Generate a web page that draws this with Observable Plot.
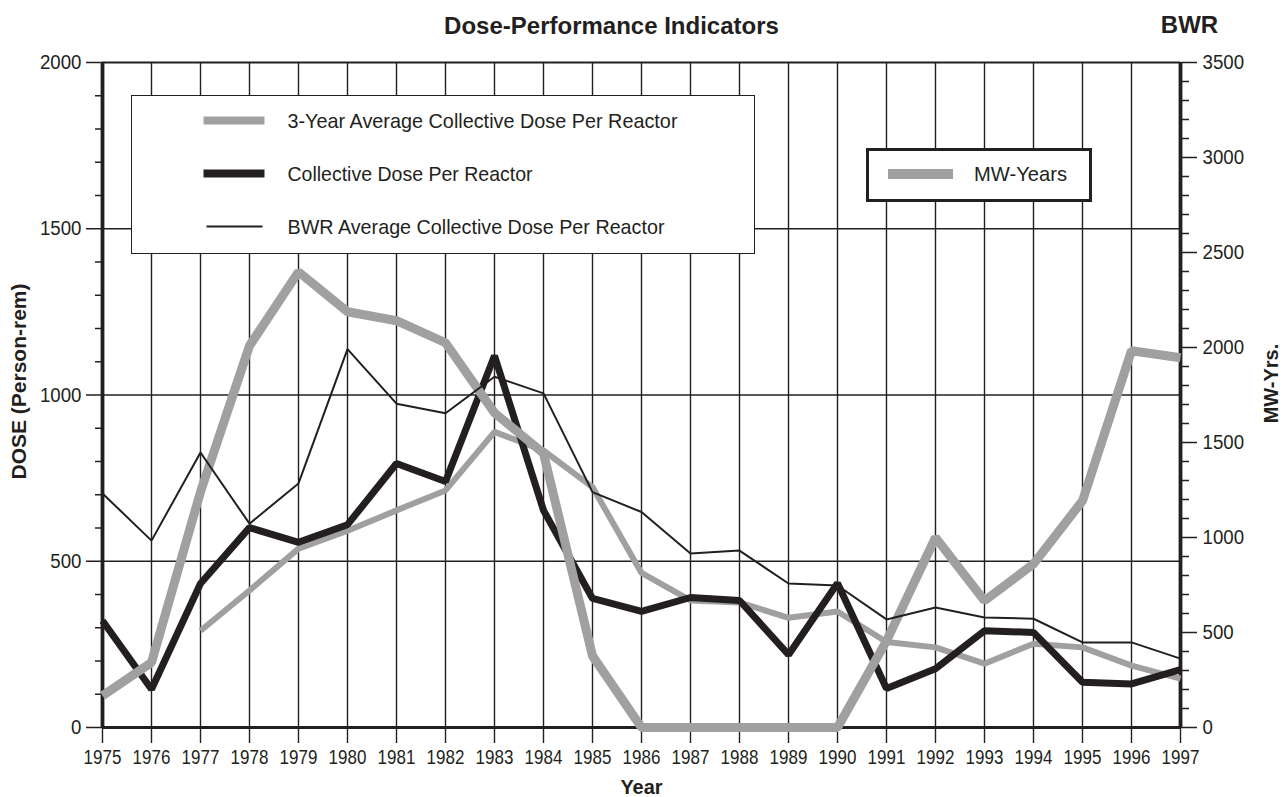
<!DOCTYPE html>
<html>
<head>
<meta charset="utf-8">
<script src="https://cdn.jsdelivr.net/npm/d3@7"></script>
<script src="https://cdn.jsdelivr.net/npm/@observablehq/plot@0.6"></script>
<style>
  html, body { margin: 0; padding: 0; background: #fff; }
  #wrap { position: relative; width: 1285px; height: 797px; overflow: hidden;
          font-family: "Liberation Sans", Arial, sans-serif; color: #231f20; }
  .legend { position: absolute; background: #fff; box-sizing: border-box; }
  .legend svg { position: absolute; overflow: visible; }
</style>
</head>
<body>
<div id="wrap"></div>
<script>
// ---- data ----
const years = [1975,1976,1977,1978,1979,1980,1981,1982,1983,1984,1985,1986,1987,1988,1989,1990,1991,1992,1993,1994,1995,1996,1997];
const avg3Dose = [null,null,291,412,538,592,653,713,889,833,723,465,382,376,330,349,257,241,192,252,241,186,147];
const collectiveDose = [321,115,433,601,557,610,794,740,1118,653,388,349,391,382,219,434,117,177,291,286,136,131,174];
const bwrAvgDose = [704,562,827,613,734,1138,974,945,1055,1005,708,648,523,532,433,427,325,361,331,327,256,256,207];
const mwYears = [167,342,1240,2009,2398,2188,2141,2025,1656,1443,377,0,0,0,0,0,456,1000,667,861,1193,1983,1946];
const doseTicks = [0,500,1000,1500,2000];
const doseMinorTicks = [100,200,300,400,600,700,800,900,1100,1200,1300,1400,1600,1700,1800,1900];
const mwTicks = [0,500,1000,1500,2000,2500,3000,3500];
const mwMinorTicks = [100,200,300,400,600,700,800,900,1100,1200,1300,1400,1600,1700,1800,1900,2100,2200,2300,2400,2600,2700,2800,2900,3100,3200,3300,3400];
const gridDose = [500,1000,1500];

const DOSE_MAX = 2000, MW_MAX = 3500;
const K = DOSE_MAX / MW_MAX; // MW-years -> dose axis units

const rows = years.map((yr, i) => ({
  year: yr, avg3: avg3Dose[i], coll: collectiveDose[i], bwr: bwrAvgDose[i], mw: mwYears[i]
}));

const INK = "#231f20", GRAY = "#a0a0a0";
const FONT = '"Liberation Sans", Arial, sans-serif';
const blank = () => "";

const chart = Plot.plot({
  width: 1285, height: 797,
  marginLeft: 102, marginRight: 105, marginTop: 62, marginBottom: 70,
  x: {domain: [1975, 1997]},
  y: {domain: [0, DOSE_MAX]},
  style: {fontFamily: FONT, fontSize: "21px", color: INK, background: "white", overflow: "visible"},
  marks: [
    Plot.gridX(years, {stroke: INK, strokeOpacity: 1, strokeWidth: 1.4}),
    Plot.gridY(gridDose, {stroke: INK, strokeOpacity: 1, strokeWidth: 1.5}),
    Plot.ruleY([DOSE_MAX], {stroke: INK, strokeWidth: 2.2}),
    // axes
    Plot.axisX(years, {anchor: "bottom", tickSize: 16, tickPadding: 6, tickFormat: d => String(d), label: null, stroke: INK, strokeWidth: 1.4, fontSize: 21}),
    Plot.axisY(doseTicks, {anchor: "left", tickSize: 16, tickPadding: 5, tickFormat: d => String(d), label: null, stroke: INK, strokeWidth: 1.5, fontSize: 21}),
    Plot.axisY(doseMinorTicks, {anchor: "left", tickSize: 7, tickFormat: blank, label: null, stroke: INK, strokeWidth: 1.5}),
    Plot.axisY(mwTicks.map(v => v * K), {anchor: "right", tickSize: 16, tickPadding: 6, tickFormat: d => String(Math.round(d / K)), label: null, stroke: INK, strokeWidth: 1.5, fontSize: 21}),
    Plot.axisY(mwMinorTicks.map(v => v * K), {anchor: "right", tickSize: 8, tickFormat: blank, label: null, stroke: INK, strokeWidth: 1.5}),
    // frame lines
    Plot.ruleX([1975], {stroke: INK, strokeWidth: 3.8}),
    Plot.ruleX([1997], {stroke: INK, strokeWidth: 3.8}),
    Plot.ruleY([0], {stroke: INK, strokeWidth: 3.2}),
    // series
    Plot.lineY(rows, {x: "year", y: "avg3", stroke: GRAY, strokeWidth: 6, strokeLinejoin: "miter", strokeLinecap: "butt"}),
    Plot.lineY(rows, {x: "year", y: "coll", stroke: INK, strokeWidth: 7, strokeLinejoin: "miter", strokeLinecap: "butt"}),
    Plot.lineY(rows, {x: "year", y: d => d.mw * K, stroke: GRAY, strokeWidth: 9, strokeLinejoin: "miter", strokeLinecap: "butt"}),
    Plot.lineY(rows, {x: "year", y: "bwr", stroke: INK, strokeWidth: 2, strokeLinejoin: "miter"}),
    // titles
    Plot.text(["Dose-Performance Indicators"], {frameAnchor: "top", dx: -30, dy: -29, lineAnchor: "bottom", fontWeight: "bold", fontSize: 24, fill: INK, ariaLabel: "title"}),
    Plot.text(["BWR"], {frameAnchor: "top-right", dx: 9, dy: -30, lineAnchor: "bottom", textAnchor: "middle", fontWeight: "bold", fontSize: 24, fill: INK, ariaLabel: "bwr"}),
    Plot.text(["Year"], {frameAnchor: "bottom", dy: 66, lineAnchor: "bottom", fontWeight: "bold", fontSize: 20, fill: INK, ariaLabel: "xlabel"}),
    Plot.text(["DOSE (Person-rem)"], {frameAnchor: "left", dx: -83, dy: -13.5, rotate: -90, textAnchor: "middle", lineAnchor: "middle", fontWeight: "bold", fontSize: 21, fill: INK, ariaLabel: "ylabel"}),
    Plot.text(["MW-Yrs."], {frameAnchor: "right", dx: 91, dy: -11.5, rotate: -90, textAnchor: "middle", lineAnchor: "middle", fontWeight: "bold", fontSize: 20, fill: INK, ariaLabel: "y2label"})
  ]
});

const wrap = document.getElementById("wrap");
wrap.appendChild(chart);

// condense text horizontally (reference uses a condensed face)
function squeeze(t, s) {
  const tr = t.getAttribute("transform");
  if (tr) t.setAttribute("transform", tr + ` scale(${s},1)`);
  else {
    const x = +t.getAttribute("x") || 0, y = +t.getAttribute("y") || 0;
    t.removeAttribute("x"); t.removeAttribute("y");
    t.setAttribute("transform", `translate(${x},${y}) scale(${s},1)`);
  }
}
function squeezeTo(t, target) { squeeze(t, target / t.getComputedTextLength()); }
chart.querySelectorAll('g[aria-label="x-axis tick label"] text').forEach(t => squeeze(t, 0.81));
chart.querySelectorAll('g[aria-label="y-axis tick label"] text').forEach(t => squeeze(t, 0.89));
const fit = {title: 303, bwr: 55, xlabel: 37, ylabel: 198, y2label: 70};
for (const k in fit) chart.querySelectorAll(`g[aria-label="${k}"] text`).forEach(t => squeezeTo(t, fit[k]));

// ---- legends ----
const legendItems = [
  {label: "3-Year Average Collective Dose Per Reactor", tw: 390, color: GRAY, width: 8, x1: 204, x2: 265, y: 121},
  {label: "Collective Dose Per Reactor", tw: 245, color: INK, width: 8, x1: 204, x2: 265, y: 174},
  {label: "BWR Average Collective Dose Per Reactor", tw: 377, color: INK, width: 2.2, x1: 207, x2: 263, y: 227}
];
function makeLegend(box, items, textX, border) {
  const div = document.createElement("div");
  div.className = "legend";
  Object.assign(div.style, {left: box.x + "px", top: box.y + "px", width: box.w + "px", height: box.h + "px", border: border});
  const ns = "http://www.w3.org/2000/svg";
  const svg = document.createElementNS(ns, "svg");
  svg.setAttribute("width", box.w); svg.setAttribute("height", box.h);
  svg.style.left = "0px"; svg.style.top = "0px";
  const bw = parseFloat(border);
  items.forEach(it => {
    const ln = document.createElementNS(ns, "line");
    ln.setAttribute("x1", it.x1 - box.x - bw); ln.setAttribute("x2", it.x2 - box.x - bw);
    ln.setAttribute("y1", it.y - box.y - bw); ln.setAttribute("y2", it.y - box.y - bw);
    ln.setAttribute("stroke", it.color); ln.setAttribute("stroke-width", it.width);
    svg.appendChild(ln);
    const t = document.createElementNS(ns, "text");
    t.setAttribute("x", textX - box.x - bw);
    t.setAttribute("y", it.y - box.y - bw);
    t.setAttribute("dy", "0.34em");
    t.setAttribute("font-size", "21");
    t.setAttribute("font-family", FONT);
    t.setAttribute("fill", INK);
    t.setAttribute("textLength", it.tw);
    t.setAttribute("lengthAdjust", "spacingAndGlyphs");
    t.textContent = it.label;
    svg.appendChild(t);
  });
  div.appendChild(svg);
  wrap.appendChild(div);
}
makeLegend({x: 131, y: 95, w: 624, h: 159}, legendItems, 288, "1.5px solid " + INK);
makeLegend({x: 866, y: 148, w: 226, h: 54}, [{label: "MW-Years", tw: 93, color: GRAY, width: 10, x1: 888, x2: 953, y: 174}], 974, "3px solid " + INK);
</script>
</body>
</html>
